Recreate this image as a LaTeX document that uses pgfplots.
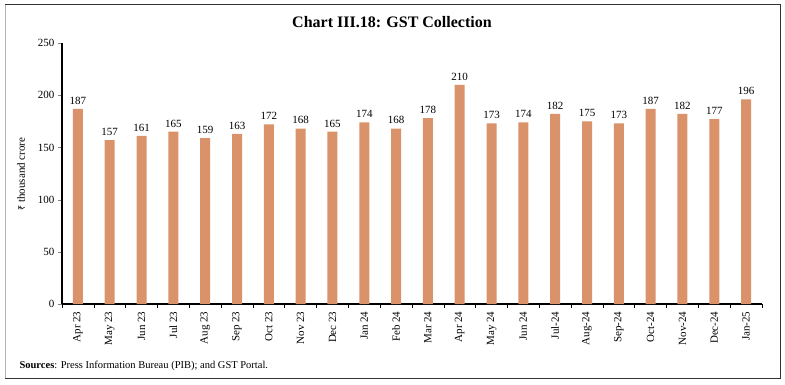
\documentclass[border=0pt]{standalone}
\usepackage{fontspec}
\setmainfont{Liberation Serif}
\newfontfamily\rupee{Noto Sans}
\usepackage{pgfplots}
\pgfplotsset{compat=1.18}
\definecolor{barc}{HTML}{D9926A}
\begin{document}
\begin{tikzpicture}[x=1pt,y=1pt]
\path (0,0) rectangle (785,384);
\draw[black!80, line width=1pt] (5,6) rectangle (780,379);
\draw[black!30, line width=1pt] (5,6) -- (5,379);
\node[font=\bfseries\fontsize{16}{18}\selectfont] at (392,362) {Chart III.18: GST Collection};
\node[anchor=west, font=\fontsize{10.5}{12}\selectfont] at (16,18) {\textbf{Sources}: Press Information Bureau (PIB); and GST Portal.};
\node[rotate=90, font=\fontsize{11}{12}\selectfont] at (21,210) {{\rupee\fontsize{9}{10}\selectfont ₹} thousand crore};
\begin{axis}[
  at={(62pt,80pt)}, anchor=south west,
  scale only axis, width=700pt, height=261pt,
  xmin=-0.5, xmax=21.5, ymin=0, ymax=250,
  axis x line*=bottom, axis y line*=left,
  axis line style={line width=1.4pt},
  ytick={0,50,...,250},
  xtick={0,...,21},
  xticklabels={Apr 23,May 23,Jun 23,Jul 23,Aug 23,Sep 23,Oct 23,Nov 23,Dec 23,Jan 24,Feb 24,Mar 24,Apr 24,May 24,Jun 24,Jul-24,Aug-24,Sep-24,Oct-24,Nov-24,Dec-24,Jan-25},
  x tick label style={rotate=90, anchor=east, font=\fontsize{11}{12}\selectfont},
  major x tick style={draw=none},
  minor xtick={-0.5,0.5,...,21.5},
  minor tick length=4pt,
  minor x tick style={black, line width=0.6pt},
  tick align=outside,
  major tick length=4pt,
  y tick label style={font=\fontsize{11}{12}\selectfont},
  /pgf/number format/assume math mode=true,
  ybar, bar width=10pt,
  nodes near coords,
  nodes near coords style={font=\fontsize{11}{12}\selectfont, yshift=1pt},
]
\addplot[fill=barc, draw=none] coordinates {
(0,187) (1,157) (2,161) (3,165) (4,159) (5,163) (6,172) (7,168) (8,165) (9,174) (10,168) (11,178) (12,210) (13,173) (14,174) (15,182) (16,175) (17,173) (18,187) (19,182) (20,177) (21,196)
};
\end{axis}
\end{tikzpicture}
\end{document}
